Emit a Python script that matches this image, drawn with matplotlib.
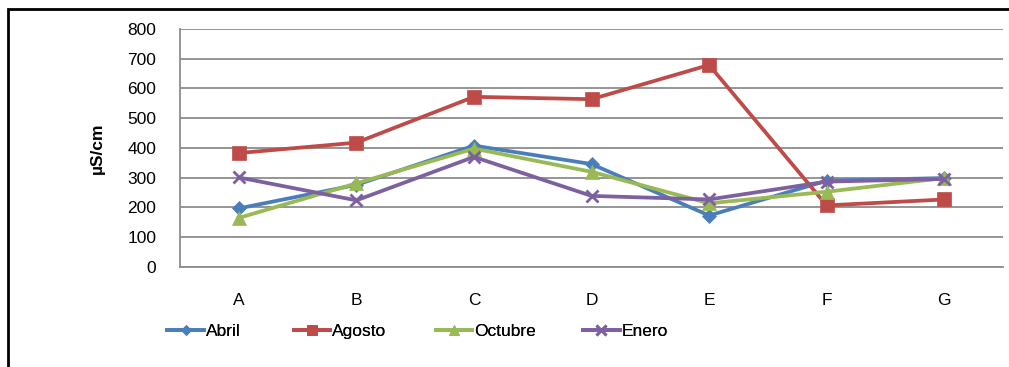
import matplotlib
matplotlib.use('Agg')
from matplotlib import pyplot as plt
from matplotlib.patches import Rectangle

plt.rcParams['font.family'] = ['Liberation Sans', 'DejaVu Sans']

sites = ['A', 'B', 'C', 'D', 'E', 'F', 'G']
abril = [197, 276, 408, 346, 173, 290, 299]
agosto = [383, 418, 572, 564, 679, 207, 227]
octubre = [165, 281, 398, 320, 214, 253, 299]
enero = [301, 224, 370, 239, 227, 287, 296]

names = ['Abril', 'Agosto', 'Octubre', 'Enero']
colors = ['#4A7EBB', '#BE4B48', '#98B954', '#7D60A0']
markers = ['D', 's', '^', 'x']
msizes = [7, 10, 10, 9]
# legend entry left edges (fraction of figure width)
leg_x = [0.166, 0.291, 0.432, 0.578]

fig = plt.figure(figsize=(10.09, 3.67), dpi=100)
ax = fig.add_axes([0.1784, 0.2725, 0.8157, 0.6485])

x = list(range(len(sites)))
lines = []
for data, name, c, m, ms in zip([abril, agosto, octubre, enero], names, colors, markers, msizes):
    ln, = ax.plot(x, data, color=c, lw=2.7, marker=m, markersize=ms,
                  markeredgewidth=2 if m == 'x' else 0.5, markeredgecolor=c, label=name)
    lines.append(ln)

ax.set_xlim(-0.5, 6.5)
ax.set_ylim(0, 800)
ax.set_yticks(range(0, 801, 100))
ax.set_xticks(x)
ax.set_xticklabels(sites)
ax.grid(axis='y', color='#8c8c8c', lw=1.3)
ax.set_axisbelow(True)
for s in ['top', 'right']:
    ax.spines[s].set_visible(False)
for s in ['left', 'bottom']:
    ax.spines[s].set_color('#8c8c8c')
    ax.spines[s].set_linewidth(1.3)
ax.tick_params(axis='both', length=0, labelsize=12.5)
ax.tick_params(axis='y', pad=17)
ax.tick_params(axis='x', pad=19)
ax.set_ylabel('µS/cm', fontsize=12.5, fontweight='bold', labelpad=16)

for ln, name, lx in zip(lines, names, leg_x):
    leg = fig.legend([ln], [name], loc='center left', bbox_to_anchor=(lx, 0.098), frameon=False,
                     fontsize=12.5, handlelength=2.1, handletextpad=0.1, borderpad=0,
                     borderaxespad=0, markerscale=0.75)
    fig.add_artist(leg)

fig.patches.append(Rectangle((8 / 1009, -0.1), 2.0, 1.1 - 9 / 367, transform=fig.transFigure,
                             fill=False, edgecolor='black', lw=2))

fig.savefig('out.png', dpi=100)
